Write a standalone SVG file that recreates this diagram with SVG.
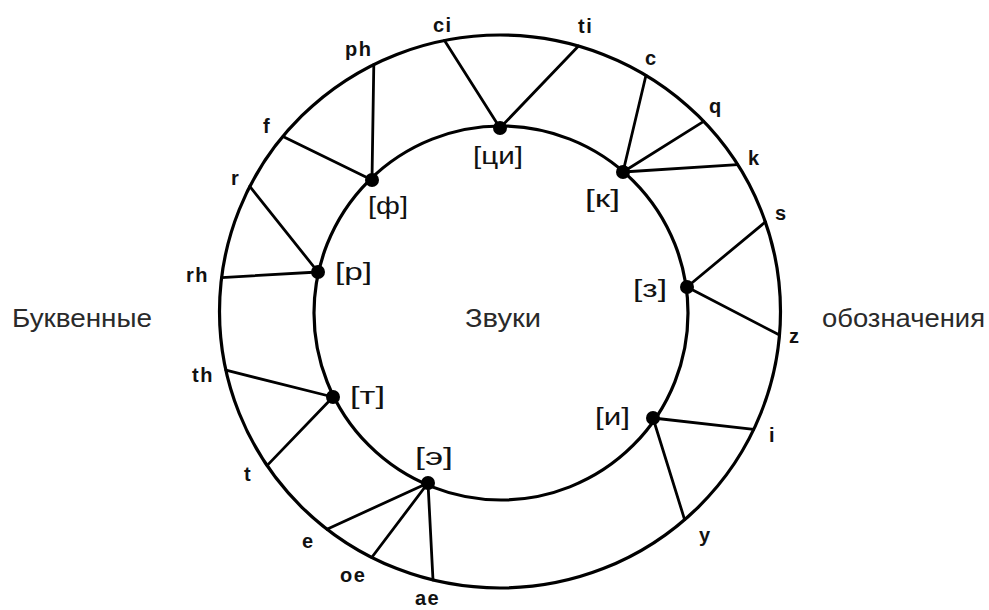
<svg xmlns="http://www.w3.org/2000/svg" width="989" height="610" viewBox="0 0 989 610">
<style>
.ring{fill:none;stroke:#000;stroke-width:3.2}
.con line{stroke:#000;stroke-width:2.8;stroke-linecap:round}
.dot{fill:#000}
.lbl{font-family:"Liberation Sans",Arial,sans-serif;font-size:20px;font-weight:bold;fill:#111;letter-spacing:1.5px}
.snd{font-family:"Liberation Sans",Arial,sans-serif;font-size:23px;fill:#111}
.cap{font-family:"Liberation Sans",Arial,sans-serif;font-size:26px;fill:#2a2a2a}
</style>
<rect width="989" height="610" fill="#fff"/>
<g id="rings">
<ellipse class="ring" cx="500" cy="311.5" rx="280.5" ry="276.5"/>
<circle class="ring" cx="501" cy="313" r="187"/>
</g>
<g id="connectors" class="con">
<line x1="444.5" y1="40.5" x2="500" y2="128"/>
<line x1="578.5" y1="46" x2="500" y2="128"/>
<line x1="373.8" y1="64.6" x2="372" y2="180"/>
<line x1="283" y1="136.4" x2="372" y2="180"/>
<line x1="249.8" y1="186.4" x2="318" y2="272"/>
<line x1="221.6" y1="277.6" x2="318" y2="272"/>
<line x1="225.9" y1="370.2" x2="333" y2="397"/>
<line x1="267" y1="465.6" x2="333" y2="397"/>
<line x1="327" y1="529.2" x2="428" y2="483"/>
<line x1="371.7" y1="557.5" x2="428" y2="483"/>
<line x1="433" y1="580" x2="428" y2="483"/>
<line x1="684.6" y1="519.6" x2="653" y2="418"/>
<line x1="753.7" y1="429.4" x2="653" y2="418"/>
<line x1="779.5" y1="335.1" x2="687" y2="287"/>
<line x1="765.4" y1="221.9" x2="687" y2="287"/>
<line x1="737.6" y1="164.6" x2="623" y2="172"/>
<line x1="703.7" y1="121.4" x2="623" y2="172"/>
<line x1="646" y1="75.3" x2="623" y2="172"/>
</g>
<g id="snd-tsi"><circle class="dot" cx="500" cy="128" r="7"/><text class="snd" x="473" y="164" textLength="50" lengthAdjust="spacingAndGlyphs">[ци]</text></g>
<g id="snd-f"><circle class="dot" cx="372" cy="180" r="7"/><text class="snd" x="368" y="214" textLength="40" lengthAdjust="spacingAndGlyphs">[ф]</text></g>
<g id="snd-r"><circle class="dot" cx="318" cy="272" r="7"/><text class="snd" x="335" y="280" textLength="37" lengthAdjust="spacingAndGlyphs">[р]</text></g>
<g id="snd-t"><circle class="dot" cx="333" cy="397" r="7"/><text class="snd" x="350" y="404" textLength="35" lengthAdjust="spacingAndGlyphs">[т]</text></g>
<g id="snd-e"><circle class="dot" cx="428" cy="483" r="7"/><text class="snd" x="415" y="465" textLength="38" lengthAdjust="spacingAndGlyphs">[э]</text></g>
<g id="snd-i"><circle class="dot" cx="653" cy="418" r="7"/><text class="snd" x="595" y="425" textLength="35" lengthAdjust="spacingAndGlyphs">[и]</text></g>
<g id="snd-z"><circle class="dot" cx="687" cy="287" r="7"/><text class="snd" x="633" y="297" textLength="34" lengthAdjust="spacingAndGlyphs">[з]</text></g>
<g id="snd-k"><circle class="dot" cx="623" cy="172" r="7"/><text class="snd" x="585" y="207" textLength="35" lengthAdjust="spacingAndGlyphs">[к]</text></g>
<g id="let-ci"><text class="lbl" x="433" y="32">ci</text></g>
<g id="let-ti"><text class="lbl" x="578" y="33">ti</text></g>
<g id="let-c"><text class="lbl" x="645" y="65">c</text></g>
<g id="let-q"><text class="lbl" x="709" y="113">q</text></g>
<g id="let-k"><text class="lbl" x="748" y="165">k</text></g>
<g id="let-s"><text class="lbl" x="775" y="220">s</text></g>
<g id="let-z"><text class="lbl" x="789" y="343">z</text></g>
<g id="let-i"><text class="lbl" x="769" y="442">i</text></g>
<g id="let-y"><text class="lbl" x="699" y="542">y</text></g>
<g id="let-ae"><text class="lbl" x="415" y="605">ae</text></g>
<g id="let-oe"><text class="lbl" x="340" y="582">oe</text></g>
<g id="let-e"><text class="lbl" x="302" y="548">e</text></g>
<g id="let-t"><text class="lbl" x="244" y="481">t</text></g>
<g id="let-th"><text class="lbl" x="192" y="382">th</text></g>
<g id="let-rh"><text class="lbl" x="186" y="282">rh</text></g>
<g id="let-r"><text class="lbl" x="231" y="185">r</text></g>
<g id="let-f"><text class="lbl" x="263" y="133">f</text></g>
<g id="let-ph"><text class="lbl" x="345" y="56">ph</text></g>
<g id="cap-left"><text class="cap" x="12" y="327" textLength="140" lengthAdjust="spacingAndGlyphs">Буквенные</text></g>
<g id="cap-center"><text class="cap" x="465" y="327" textLength="76" lengthAdjust="spacingAndGlyphs">Звуки</text></g>
<g id="cap-right"><text class="cap" x="822" y="327" textLength="163" lengthAdjust="spacingAndGlyphs">обозначения</text></g>
</svg>
